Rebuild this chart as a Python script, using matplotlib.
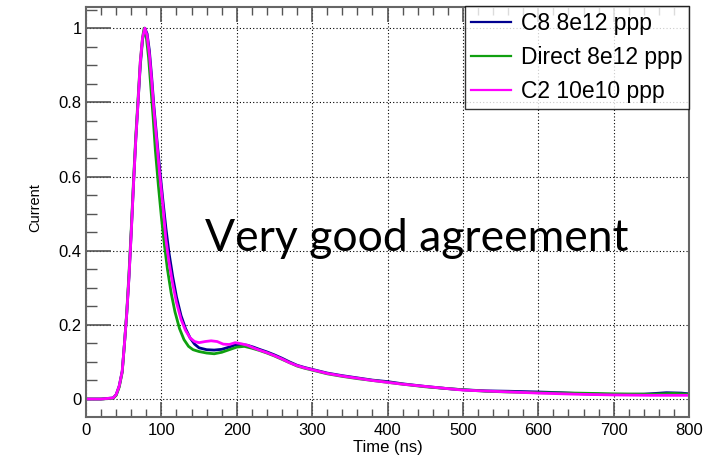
import matplotlib
matplotlib.use("Agg")
import matplotlib.pyplot as plt
from matplotlib.ticker import MultipleLocator

# values
t_c8 = [0, 20, 36, 40, 44, 48, 51, 54, 57, 60, 63, 66, 69, 72, 75, 78, 81, 84, 87, 90,
        94, 98, 102, 106, 110, 115, 120, 126, 132, 138, 144, 150, 160, 170, 180, 190,
        198, 206, 214, 222, 230, 240, 250, 260, 270, 280, 290, 300, 320, 340, 360, 380,
        400, 420, 450, 480, 500, 530, 560, 600, 630, 660, 700, 740, 770, 790, 800]
v_c8 = [0, 0, 0.003, 0.012, 0.035, 0.075, 0.15, 0.23, 0.33, 0.45, 0.58, 0.70, 0.80, 0.90,
        0.97, 1.0, 0.985, 0.94, 0.87, 0.79, 0.70, 0.615, 0.535, 0.46, 0.395, 0.33, 0.275,
        0.225, 0.19, 0.165, 0.148, 0.138, 0.133, 0.132, 0.134, 0.140, 0.146, 0.147, 0.145,
        0.140, 0.134, 0.127, 0.119, 0.110, 0.100, 0.091, 0.085, 0.080, 0.070, 0.063, 0.057,
        0.051, 0.047, 0.041, 0.034, 0.028, 0.025, 0.022, 0.021, 0.019, 0.017, 0.014, 0.012,
        0.013, 0.017, 0.016, 0.014]

t_direct = [0, 20, 36, 40, 44, 48, 51, 54, 57, 60, 63, 66, 69, 72, 75, 77, 80, 83, 86, 89,
            92, 96, 100, 104, 108, 113, 118, 124, 130, 136, 142, 150, 160, 170, 180, 190,
            200, 210, 220, 230, 240, 250, 260, 270, 280, 290, 300, 320, 340, 360, 380, 400,
            420, 450, 480, 500, 530, 560, 600, 650, 700, 750, 780, 800]
v_direct = [0, 0, 0.002, 0.010, 0.032, 0.072, 0.15, 0.235, 0.34, 0.46, 0.59, 0.71, 0.81,
            0.91, 0.975, 1.0, 0.975, 0.92, 0.84, 0.76, 0.67, 0.575, 0.49, 0.415, 0.35, 0.285,
            0.235, 0.19, 0.16, 0.142, 0.133, 0.128, 0.124, 0.122, 0.126, 0.133, 0.140,
            0.142, 0.137, 0.131, 0.124, 0.116, 0.107, 0.098, 0.089, 0.083, 0.078, 0.068,
            0.061, 0.055, 0.050, 0.045, 0.040, 0.033, 0.028, 0.025, 0.021, 0.019, 0.017,
            0.016, 0.014, 0.013, 0.015, 0.013]

t_c2 = [0, 20, 36, 40, 44, 48, 51, 54, 57, 60, 63, 66, 69, 72, 75, 78, 81, 84, 87, 90,
        94, 98, 102, 106, 110, 115, 120, 126, 132, 138, 144, 150, 158, 166, 174, 182, 190,
        198, 206, 214, 222, 230, 240, 250, 260, 270, 280, 290, 300, 320, 340, 360, 380,
        400, 420, 450, 480, 500, 550, 600, 650, 700, 750, 800]
v_c2 = [0, 0, 0.003, 0.012, 0.035, 0.075, 0.15, 0.23, 0.33, 0.45, 0.58, 0.70, 0.80, 0.91,
        0.975, 1.0, 0.98, 0.93, 0.86, 0.78, 0.69, 0.60, 0.52, 0.43, 0.37, 0.31, 0.26,
        0.215, 0.185, 0.165, 0.155, 0.152, 0.155, 0.157, 0.155, 0.148, 0.147, 0.152,
        0.149, 0.145, 0.138, 0.132, 0.125, 0.117, 0.108, 0.098, 0.090, 0.084, 0.079,
        0.069, 0.062, 0.056, 0.050, 0.045, 0.040, 0.034, 0.028, 0.024, 0.020, 0.016,
        0.013, 0.011, 0.010, 0.010]

labels = ["C8 8e12 ppp", "Direct 8e12 ppp", "C2 10e10 ppp"]
colors = ["#000090", "#10a010", "#ff00ff"]

plt.rcParams["font.family"] = ["Liberation Sans", "DejaVu Sans"]

fig = plt.figure(figsize=(7.17, 4.55), dpi=100)
ax = fig.add_axes([0.120, 0.0835, 0.841, 0.901])

ax.plot(t_c8, v_c8, color=colors[0], lw=2, label=labels[0])
ax.plot(t_direct, v_direct, color=colors[1], lw=2, label=labels[1])
ax.plot(t_c2, v_c2, color=colors[2], lw=2, label=labels[2])

ax.set_xlim(0, 800)
ax.set_ylim(-0.0485, 1.057)
ax.xaxis.set_major_locator(MultipleLocator(100))
ax.xaxis.set_minor_locator(MultipleLocator(20))
ax.yaxis.set_major_locator(MultipleLocator(0.2))
ax.yaxis.set_minor_locator(MultipleLocator(0.05))
ax.yaxis.set_major_formatter(plt.FuncFormatter(lambda v, p: "%g" % round(v, 2)))

ax.tick_params(which="both", direction="in", top=True, right=False,
               labelsize=12, color="#555555", pad=3)
ax.tick_params(axis="x", which="both", pad=4.5)
ax.tick_params(axis="x", which="major", length=11, width=1.2)
ax.tick_params(axis="x", which="minor", length=6, width=1)
ax.tick_params(axis="y", which="major", length=18, width=1.2)
ax.tick_params(axis="y", which="minor", length=8, width=1)

ax.grid(True, which="major", color="black", linestyle=(0, (1, 2)), linewidth=0.8)
ax.set_axisbelow(True)
for s in ax.spines.values():
    s.set_color("#666666")
    s.set_linewidth(1.5)

ax.set_xlabel("Time (ns)", fontsize=12, labelpad=1)
ax.set_ylabel("Current", fontsize=10.5, va="center")
ax.yaxis.set_label_coords(-0.084, 0.511)

ax.text(158, 0.40, "Very good agreement", fontsize=32, family=["Lato", "DejaVu Sans"],
        ha="left", va="baseline")

leg = ax.legend(loc="upper right", bbox_to_anchor=(1.0, 1.002), fontsize=16.5,
                frameon=True, fancybox=False, handlelength=1.75, handletextpad=0.45,
                borderaxespad=0, labelspacing=0.47, borderpad=0.27)
leg.get_frame().set_edgecolor("black")
leg.get_frame().set_linewidth(1)
for h in leg.get_lines():
    h.set_linewidth(1.6)

fig.savefig("out.png", dpi=100)
